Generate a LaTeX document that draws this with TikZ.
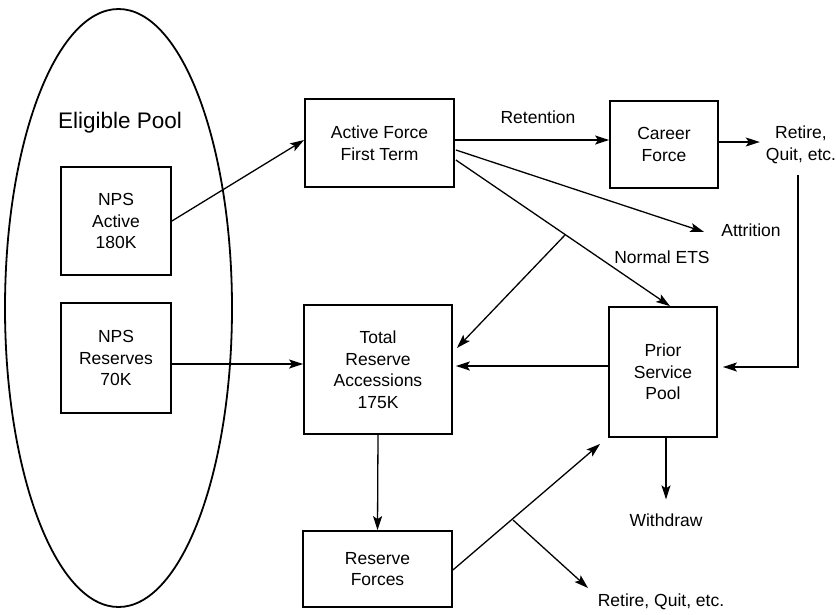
\documentclass[tikz,border=0pt]{standalone}
\usepackage{fontspec}
\setmainfont{Liberation Sans}
\usetikzlibrary{arrows.meta,calc,shapes.geometric}
\begin{document}
\begin{tikzpicture}[x=1pt,y=-1pt,
  box/.style={draw,line width=1.8pt,align=center,font=\fontsize{17.5}{21.5}\selectfont,inner sep=0pt},
  lbl/.style={align=center,font=\fontsize{17.5}{21.5}\selectfont,inner sep=0pt},
  conn/.style={line width=1.3pt,-{Stealth[length=14pt,width=9pt,inset=3pt]}}]
\useasboundingbox (0,0) rectangle (836,614);
% eligible pool
\node[draw,ellipse,line width=1.8pt,minimum width=227pt,minimum height=598pt,inner sep=0pt] (pool) at (118.5,308) {};
\node[lbl,font=\fontsize{22.5}{26}\selectfont] (poollbl) at (120,123) {Eligible Pool};
\node[box,minimum width=110pt,minimum height=108pt] (npsa) at (116,221) {NPS\\Active\\180K};
\node[box,minimum width=110pt,minimum height=110pt] (npsr) at (116,358) {NPS\\Reserves\\70K};
% boxes
\node[box,minimum width=149pt,minimum height=88pt] (afft) at (379.5,143) {Active Force\\First Term};
\node[box,minimum width=108pt,minimum height=87pt] (cf) at (664,144.5) {Career\\Force};
\node[box,minimum width=148pt,minimum height=129pt] (tra) at (378,369.5) {Total\\Reserve\\Accessions\\175K};
\node[box,minimum width=108pt,minimum height=130pt] (psp) at (663,372) {Prior\\Service\\Pool};
\node[box,minimum width=149pt,minimum height=76pt] (rf) at (377.5,569) {Reserve\\Forces};
% labels
\node[lbl] (ret) at (538,117) {Retention};
\node[lbl] (rq1) at (801,145) {Retire,\\Quit, etc.};
\node[lbl] (attr) at (751,230) {Attrition};
\node[lbl] (ets) at (662,257) {Normal ETS};
\node[lbl] (wd) at (666,520) {Withdraw};
\node[lbl] (rq2) at (661,602) {Retire, Quit, etc.};
% helper coordinates
\coordinate (etsbr) at (565,235);
\coordinate (rfbr) at (513,520);
\coordinate (rqdrop) at (798,175);
\coordinate (rq2tip) at (588,588);
% connectors
\draw[conn] (npsa.east) -- ($(afft.west)+(0,-3)$);
\draw[conn] ($(npsr.east)+(0,6)$) -- ($(tra.west)+(0,-5.5)$);
\draw[conn] ($(afft.east)+(0,-3)$) -- ($(cf.west)+(0,-4.5)$);
\draw[conn] ($(cf.east)+(0,-2.5)$) -- ($(rq1.west)+(-6,-3)$);
\draw[conn] (rqdrop) |- ($(psp.east)+(5,-5)$);
\draw[conn] ($(afft.east)+(1,7)$) -- ($(attr.west)+(-17,2)$);
\draw[conn] ($(afft.east)+(1,17)$) -- ($(psp.north)+(7,0)$);
\draw[conn] (etsbr) -- ($(tra.east)+(4,-21.5)$);
\draw[conn] ($(psp.west)+(0,-6)$) -- ($(tra.east)+(3,-3.5)$);
\draw[conn] (tra.south) -- (rf.north);
\draw[conn] ($(rf.east)+(0,1)$) -- ($(psp.south west)+(-8,6)$);
\draw[conn] (rfbr) -- (rq2tip);
\draw[conn] ($(psp.south)+(3,0)$) -- ($(wd.north)+(0,-14)$);
\end{tikzpicture}
\end{document}
